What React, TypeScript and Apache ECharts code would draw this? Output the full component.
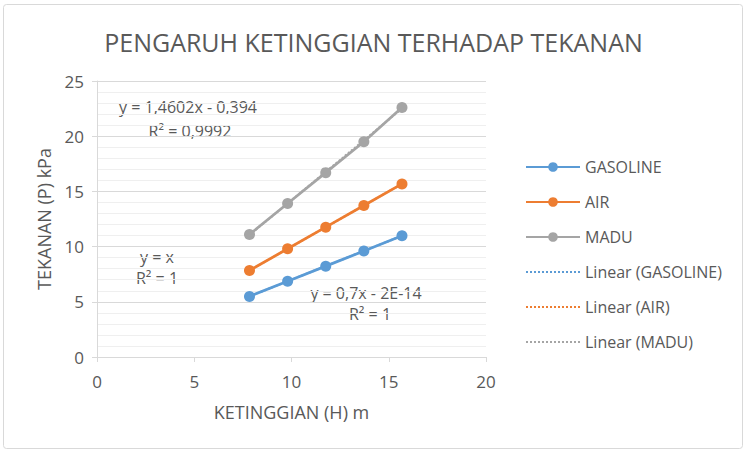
import React, { useEffect, useRef } from "react";
import * as echarts from "echarts";

const heights = [7.84, 9.8, 11.76, 13.72, 15.68];
const gasoline = [5.49, 6.86, 8.23, 9.6, 10.98];
const air = [7.84, 9.8, 11.76, 13.72, 15.68];
const madu = [11.1, 13.9, 16.7, 19.5, 22.6];
const trendGasoline = [[7.84, 5.49], [15.68, 10.98]];
const trendAir = [[7.84, 7.84], [15.68, 15.68]];
const trendMadu = [[7.84, 11.05], [15.68, 22.5]];
const seriesNames = ["GASOLINE", "AIR", "MADU", "Linear (GASOLINE)", "Linear (AIR)", "Linear (MADU)"];
const colors = ["#5b9bd5", "#ed7d31", "#a5a5a5"];
const xTicks = [0, 5, 10, 15, 20];
const yTicks = [0, 5, 10, 15, 20, 25];

const FONT = "'Open Sans', 'Noto Sans', sans-serif";
const TXT = "#595959";

export default function App() {
  const ref = useRef<HTMLDivElement>(null);
  useEffect(() => {
    if (!ref.current) return;
    const chart = echarts.init(ref.current, undefined, { renderer: "svg" });
    const pts = (ys: number[]) => heights.map((h, i) => [h, ys[i]]);
    const main = [gasoline, air, madu].map((ys, i) => ({
      name: seriesNames[i],
      type: "line",
      data: pts(ys),
      symbol: "circle",
      symbolSize: 11,
      itemStyle: { color: colors[i] },
      lineStyle: { color: colors[i], width: 2.75 },
      z: 3,
    }));
    const trends = [trendGasoline, trendAir, trendMadu].map((d, i) => ({
      name: seriesNames[i + 3],
      type: "line",
      data: d,
      symbol: "none",
      itemStyle: { color: colors[i] },
      lineStyle: { color: colors[i], width: 2, type: "dotted" },
      z: 2,
    }));
    const eqText = (text: string, x: number, y: number) => ({
      type: "text",
      x,
      y,
      style: { text, fill: TXT, font: `16px ${FONT}`, textAlign: "center", textVerticalAlign: "middle" },
    });
    chart.setOption({
      animation: false,
      textStyle: { fontFamily: FONT },
      title: {
        text: "PENGARUH KETINGGIAN TERHADAP TEKANAN",
        left: "center",
        top: 24,
        textStyle: { fontSize: 25, fontWeight: "normal", color: TXT, fontFamily: FONT },
      },
      grid: { left: 97, right: 261, top: 81, bottom: 99 },
      legend: {
        orient: "vertical",
        left: 520,
        top: 154,
        itemGap: 19,
        itemWidth: 54,
        itemHeight: 12,
        data: seriesNames.map((n, i) => (i < 3 ? { name: n } : { name: n, itemStyle: { opacity: 0 } })),
        textStyle: { fontSize: 16, color: TXT, fontFamily: FONT },
      },
      xAxis: {
        type: "value",
        min: xTicks[0],
        max: xTicks[xTicks.length - 1],
        interval: 5,
        name: "KETINGGIAN (H) m",
        nameLocation: "middle",
        nameGap: 46,
        nameTextStyle: { fontSize: 18, color: TXT },
        axisLine: { show: true, lineStyle: { color: "#d9d9d9" } },
        axisTick: { show: true, length: 5, lineStyle: { color: "#d9d9d9" } },
        axisLabel: { fontSize: 17, color: TXT, margin: 16 },
        splitLine: { show: false },
      },
      yAxis: {
        type: "value",
        min: yTicks[0],
        max: yTicks[yTicks.length - 1],
        interval: 5,
        name: "TEKANAN (P) kPa",
        nameLocation: "middle",
        nameGap: 44,
        nameTextStyle: { fontSize: 18, color: TXT },
        axisLine: { show: true, lineStyle: { color: "#d9d9d9" } },
        axisTick: { show: true, length: 5, lineStyle: { color: "#d9d9d9" } },
        axisLabel: { fontSize: 17, color: TXT, margin: 13 },
        splitLine: { show: true, lineStyle: { color: "#d9d9d9" } },
        minorTick: { show: false, splitNumber: 5 },
        minorSplitLine: { show: true, lineStyle: { color: "#efefef" } },
      },
      graphic: [
        {
          type: "rect",
          shape: { x: 3.5, y: 4.5, width: 739, height: 444, r: 3 },
          style: { fill: "none", stroke: "#d9d9d9", lineWidth: 1 },
          z: -10,
        },
        eqText("y = 1,4602x - 0,394", 188, 107),
        eqText("R² = 0,9992", 190, 131),
        eqText("y = x", 157, 257),
        eqText("R² = 1", 157, 278),
        eqText("y = 0,7x - 2E-14", 366, 293),
        eqText("R² = 1", 370, 314),
      ],
      series: [...main, ...trends],
    });
    return () => chart.dispose();
  }, []);
  return (
    <div
      ref={ref}
      style={{ position: "fixed", left: 0, top: 0, width: 747, height: 456, background: "#fff" }}
    />
  );
}
